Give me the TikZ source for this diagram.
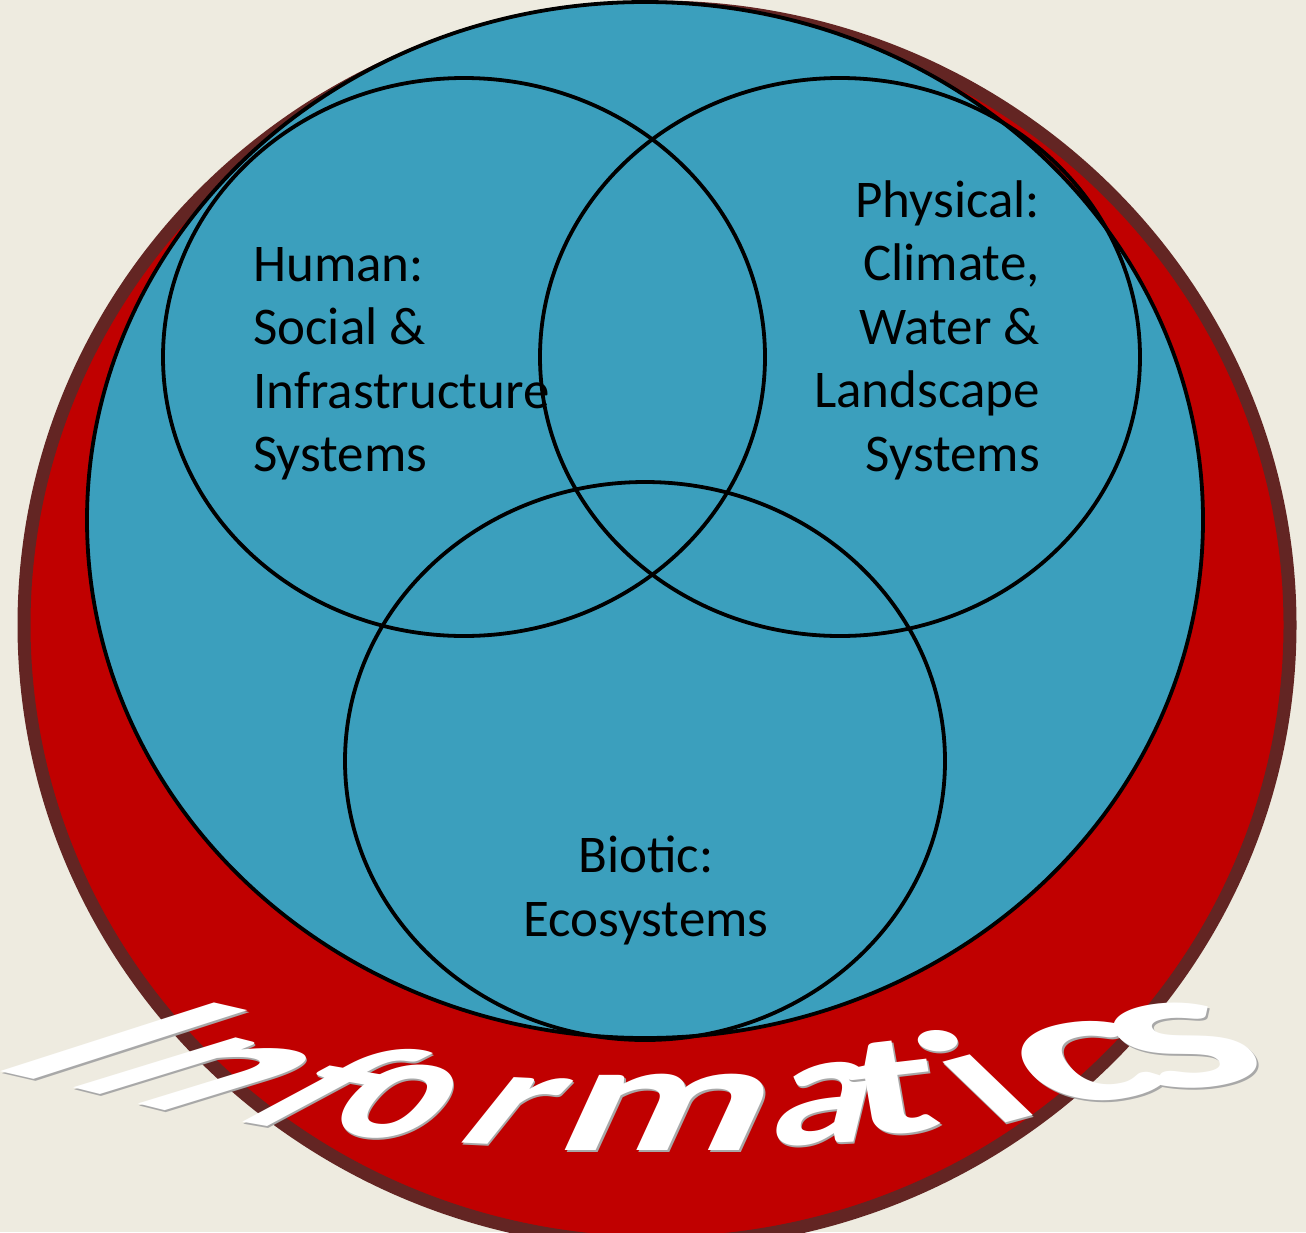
\documentclass[tikz,border=0pt]{standalone}
\usepackage{fontspec}
\setmainfont{Carlito}
\definecolor{paper}{HTML}{EEEBE0}
\definecolor{ringred}{HTML}{C00000}
\definecolor{ringedge}{HTML}{632523}
\definecolor{sphere}{HTML}{3B9FBD}
\definecolor{letteredge}{HTML}{A8A8A8}

% one letter of the word on the ring: name, x, y, base vector, up vector, letter
\newcommand{\infoletter}[8]{%
  \node[lettershadow, cm={#4,#5,#6,#7,(0,0)}] at (#2+1.5,#3+2) {#8};
  \node[letterface, cm={#4,#5,#6,#7,(0,0)}] (#1) at (#2,#3) {#8};
}

\begin{document}
\begin{tikzpicture}[x=1pt, y=-1pt,
  every node/.style={inner sep=0pt},
  label/.style={font=\fontsize{53}{63.5}\selectfont, text=black},
  letterface/.style={anchor=base west, text=white, font=\fontsize{100}{100}\selectfont\bfseries},
  lettershadow/.style={anchor=base west, text=letteredge, font=\fontsize{100}{100}\selectfont\bfseries}
]
\tikzset{
  venn/.style={draw=black, line width=3.8pt},
  ring/.style={fill=ringred, draw=ringedge, line width=13pt}
}

\useasboundingbox[fill=paper] (0,0) rectangle (1306,1232);

% ring and sphere
\path[ring] (657,625) ellipse [x radius=633pt, y radius=618pt];
\path[venn, fill=sphere] (645,520) ellipse [x radius=558pt, y radius=518pt];

% the three systems
\draw[venn] (464,357) ellipse [x radius=301pt, y radius=279pt];
\draw[venn] (840,357) ellipse [x radius=300pt, y radius=279pt];
\draw[venn] (645,761) ellipse [x radius=300pt, y radius=279pt];

\node[label, anchor=north west, align=left] (human) at (253,247)
  {Human:\\Social \&\\Infrastructure\\Systems};
\node[label, anchor=north east, align=right] (physical) at (1040,180)
  {Physical:\\Climate,\\Water \&\\Landscape\\Systems};
\node[label, anchor=north, align=center] (biotic) at (646,836)
  {Biotic:\\Ecosystems};

% Informatics
\infoletter{l1}{-18}{1067}{2.6}{-0.6}{3.3}{1.06}{I}
\infoletter{l2}{60}{1084}{2.16}{-0.54}{3.35}{1.03}{n}
\infoletter{l3}{227}{1119}{2.0}{-0.35}{2.09}{1.12}{f}
\infoletter{l4}{317}{1131}{1.9}{-0.2}{1.2}{1.45}{o}
\infoletter{l5}{450}{1142}{2.1}{-0.1}{1.08}{1.35}{r}
\infoletter{l6}{549}{1150}{2.5}{0}{0.71}{1.55}{m}
\infoletter{l7}{765}{1147}{2.0}{0.1}{0.4}{1.65}{a}
\infoletter{l8}{855}{1139}{2.6}{0.3}{-0.25}{1.45}{t}
\infoletter{l9}{992}{1127}{2.2}{0.6}{-1.3}{1.25}{i}
\infoletter{l10}{1050}{1110}{3.1}{0.5}{-1.2}{1.5}{c}
\infoletter{l11}{1158}{1095}{3.1}{0.5}{-1.5}{1.6}{s}
\end{tikzpicture}
\end{document}
